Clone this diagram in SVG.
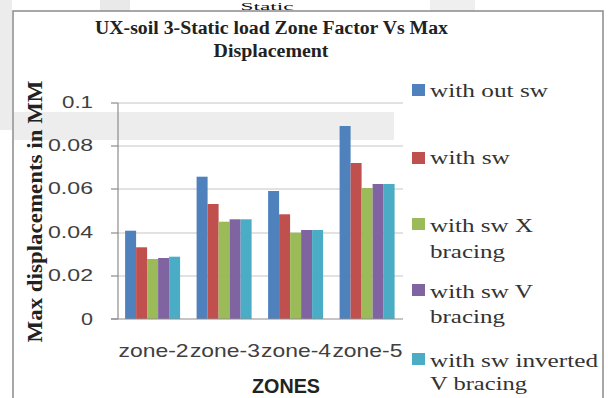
<svg xmlns="http://www.w3.org/2000/svg" width="608" height="398" viewBox="0 0 608 398">
<style>
.grid{stroke:#d9d9d9;stroke-width:1.5}
.axis{stroke:#8c8c8c;stroke-width:1.2}
.tick{font-family:"Liberation Sans",Arial,sans-serif;font-size:17px;fill:#404040;text-anchor:end}
.cat{font-family:"Liberation Sans",Arial,sans-serif;font-size:19px;fill:#404040;text-anchor:middle}
.leg{font-family:"Liberation Serif","Times New Roman",serif;font-size:19px;fill:#333}
.ttl{font-family:"Liberation Serif","Times New Roman",serif;font-size:18.5px;font-weight:bold;fill:#222;text-anchor:middle}
.b0{fill:#4F81BD}.b1{fill:#C0504D}.b2{fill:#9BBB59}.b3{fill:#8064A2}.b4{fill:#4BACC6}
</style>
<rect width="608" height="398" fill="#fff"/>
<g id="watermark" fill="#e4e4e4">
<rect x="0" y="0" width="12" height="130" opacity="0.7"/>
<rect x="100" y="0" width="30" height="11" opacity="0.8"/>
<rect x="430" y="0" width="45" height="11" opacity="0.6"/>
</g>
<text x="267" y="9.8" font-family="Liberation Serif,'Times New Roman',serif" font-size="11" text-anchor="middle" textLength="53" lengthAdjust="spacingAndGlyphs" fill="#111">Static</text>
<rect id="frame" x="13" y="11" width="590" height="400" fill="#fff" stroke="#8a8a8a" stroke-width="1.5"/>
<g id="watermark-inner">
<rect x="14" y="112" width="380" height="28" fill="#e8e8e8" opacity="0.8"/>
</g>
<g id="title">
<text class="ttl" x="271.5" y="34" textLength="353" lengthAdjust="spacingAndGlyphs">UX-soil 3-Static load Zone Factor Vs Max</text>
<text class="ttl" x="271" y="57" textLength="115" lengthAdjust="spacingAndGlyphs">Displacement</text>
</g>
<g id="gridlines">
<line class="grid" x1="118" y1="103" x2="403" y2="103"/>
<line class="grid" x1="118" y1="146" x2="403" y2="146"/>
<line class="grid" x1="118" y1="189" x2="403" y2="189"/>
<line class="grid" x1="118" y1="233" x2="403" y2="233"/>
<line class="grid" x1="118" y1="276" x2="403" y2="276"/>
</g>
<g id="y-axis">
<line class="axis" x1="118" y1="103" x2="118" y2="319"/>
<line class="axis" x1="111" y1="103" x2="118" y2="103"/>
<line class="axis" x1="111" y1="146" x2="118" y2="146"/>
<line class="axis" x1="111" y1="189" x2="118" y2="189"/>
<line class="axis" x1="111" y1="233" x2="118" y2="233"/>
<line class="axis" x1="111" y1="276" x2="118" y2="276"/>
<line class="axis" x1="111" y1="319" x2="118" y2="319"/>
<text class="tick" x="93" y="108" textLength="31" lengthAdjust="spacingAndGlyphs">0.1</text>
<text class="tick" x="93" y="151" textLength="45" lengthAdjust="spacingAndGlyphs">0.08</text>
<text class="tick" x="93" y="194" textLength="45" lengthAdjust="spacingAndGlyphs">0.06</text>
<text class="tick" x="93" y="238" textLength="45" lengthAdjust="spacingAndGlyphs">0.04</text>
<text class="tick" x="93" y="281" textLength="45" lengthAdjust="spacingAndGlyphs">0.02</text>
<text class="tick" x="93" y="325" textLength="12" lengthAdjust="spacingAndGlyphs">0</text>
<text x="42" y="211.5" transform="rotate(-90 42 211.5)" font-family="Liberation Serif,'Times New Roman',serif" font-size="22" font-weight="bold" fill="#222" text-anchor="middle" textLength="262" lengthAdjust="spacingAndGlyphs">Max displacements in MM</text>
</g>
<g id="bars">
<g id="zone-2">
<rect class="b0" x="125.1" y="230.7" width="11" height="88.3"/>
<rect class="b1" x="136.1" y="247.3" width="11" height="71.7"/>
<rect class="b2" x="147.1" y="259" width="11" height="60"/>
<rect class="b3" x="158.1" y="258" width="11" height="61"/>
<rect class="b4" x="169.1" y="256.7" width="11" height="62.3"/>
</g>
<g id="zone-3">
<rect class="b0" x="196.6" y="176.7" width="11" height="142.3"/>
<rect class="b1" x="207.6" y="204" width="11" height="115"/>
<rect class="b2" x="218.6" y="221.7" width="11" height="97.3"/>
<rect class="b3" x="229.6" y="219.3" width="11" height="99.7"/>
<rect class="b4" x="240.6" y="219.3" width="11" height="99.7"/>
</g>
<g id="zone-4">
<rect class="b0" x="268.1" y="191" width="11" height="128"/>
<rect class="b1" x="279.1" y="214.3" width="11" height="104.7"/>
<rect class="b2" x="290.1" y="232.7" width="11" height="86.3"/>
<rect class="b3" x="301.1" y="230" width="11" height="89"/>
<rect class="b4" x="312.1" y="230" width="11" height="89"/>
</g>
<g id="zone-5">
<rect class="b0" x="339.6" y="126" width="11" height="193"/>
<rect class="b1" x="350.6" y="163" width="11" height="156"/>
<rect class="b2" x="361.6" y="188" width="11" height="131"/>
<rect class="b3" x="372.6" y="184" width="11" height="135"/>
<rect class="b4" x="383.6" y="184" width="11" height="135"/>
</g>
</g>
<g id="x-axis">
<line class="axis" x1="111" y1="319" x2="403" y2="319"/>
<text class="cat" x="153.6" y="357" textLength="70" lengthAdjust="spacingAndGlyphs">zone-2</text>
<text class="cat" x="224.9" y="357" textLength="70" lengthAdjust="spacingAndGlyphs">zone-3</text>
<text class="cat" x="296.1" y="357" textLength="70" lengthAdjust="spacingAndGlyphs">zone-4</text>
<text class="cat" x="367.4" y="357" textLength="70" lengthAdjust="spacingAndGlyphs">zone-5</text>
<text x="286" y="393" font-family="Liberation Sans,Arial,sans-serif" font-size="20" font-weight="bold" fill="#222" text-anchor="middle" textLength="68" lengthAdjust="spacingAndGlyphs">ZONES</text>
</g>
<g id="legend">
<rect class="b0" x="412" y="84" width="13" height="12"/>
<text class="leg" x="430" y="97" textLength="118" lengthAdjust="spacingAndGlyphs">with out sw</text>
<rect class="b1" x="412" y="152" width="13" height="12"/>
<text class="leg" x="430" y="164" textLength="80" lengthAdjust="spacingAndGlyphs">with sw</text>
<rect class="b2" x="412" y="218" width="13" height="12"/>
<text class="leg" x="430" y="232" textLength="103" lengthAdjust="spacingAndGlyphs">with sw X</text>
<text class="leg" x="430" y="258" textLength="75" lengthAdjust="spacingAndGlyphs">bracing</text>
<rect class="b3" x="412" y="284" width="13" height="12"/>
<text class="leg" x="430" y="298" textLength="103" lengthAdjust="spacingAndGlyphs">with sw V</text>
<text class="leg" x="430" y="323" textLength="75" lengthAdjust="spacingAndGlyphs">bracing</text>
<rect class="b4" x="412" y="353" width="13" height="12"/>
<text class="leg" x="430" y="367" textLength="168" lengthAdjust="spacingAndGlyphs">with sw inverted</text>
<text class="leg" x="430" y="390" textLength="97" lengthAdjust="spacingAndGlyphs">V bracing</text>
</g>
</svg>
